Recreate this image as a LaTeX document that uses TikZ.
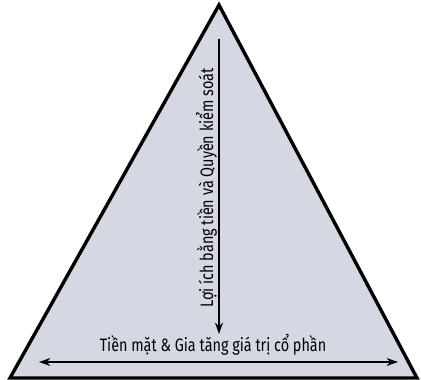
\documentclass[tikz,border=0pt]{standalone}
\usepackage{fontspec}
\setmainfont{Fira Sans}[FakeStretch=0.8]
\usepackage{xcolor}
\definecolor{cFill}{HTML}{D5D8E3}
\definecolor{cLine}{HTML}{000000}
\usetikzlibrary{positioning,arrows.meta}
\tikzset{
  tri-shape/.style={draw=cLine,line width=3.4pt,fill=cFill,line join=miter},
  arrow/.style={-{Stealth[length=4mm,width=2.8mm]},line width=1.6pt,draw=cLine},
  arrow-both/.style={{Stealth[length=4mm,width=2.8mm]}-{Stealth[length=4mm,width=2.8mm]},line width=1.6pt,draw=cLine},
  lbl/.style={inner sep=1pt,font=\fontsize{18}{20}\selectfont},
}
\begin{document}
\begin{tikzpicture}[x=1pt,y=1pt]
  \useasboundingbox (0,0) rectangle (421,380);
  \coordinate (apex) at (219,375);
  \coordinate (left) at (10,2);
  \coordinate (right) at (417,2);
  \draw[tri-shape] (apex) -- (left) -- (right) -- cycle;

  \coordinate (ctrl-top) at (219,341);
  \coordinate (ctrl-bot) at (219,46);
  \coordinate (cash-l) at (39,18);
  \coordinate (cash-r) at (398,18);
  \draw[arrow] (ctrl-top) -- (ctrl-bot);
  \draw[arrow-both] (cash-l) -- (cash-r);

  \node[lbl,rotate=90,anchor=base] (ctrl) at (213,192) {Lợi ích bằng tiền và Quyền kiểm soát};
  \node[lbl,anchor=base] (cash) at (213,28) {Tiền mặt \& Gia tăng giá trị cổ phần};
\end{tikzpicture}
\end{document}
